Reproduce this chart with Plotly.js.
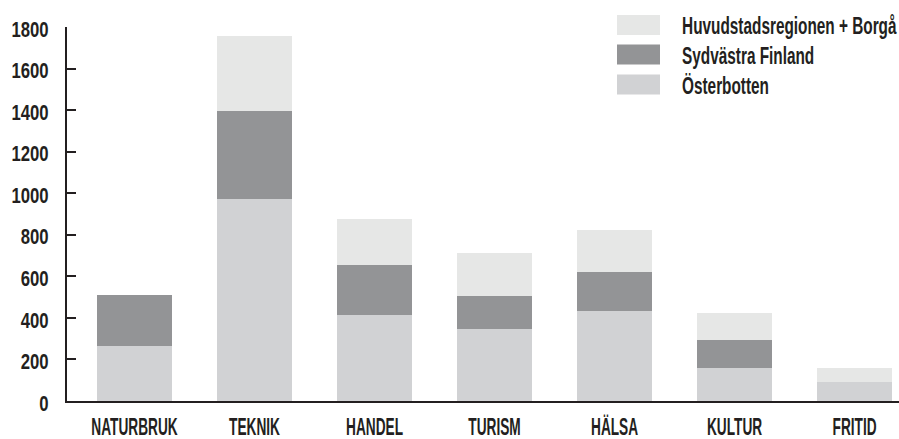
<!DOCTYPE html>
<html>
<head>
<meta charset="utf-8">
<script src="https://cdn.plot.ly/plotly-3.0.1.min.js"></script>
<style>html,body{margin:0;padding:0;background:#fff;}#chart{width:899px;height:439px;}</style>
</head>
<body>
<div id="chart"></div>
<script>
const categories = ["NATURBRUK", "TEKNIK", "HANDEL", "TURISM", "HÄLSA", "KULTUR", "FRITID"];
const seriesNames = ["Österbotten", "Sydvästra Finland", "Huvudstadsregionen + Borgå"];
const osterbotten = [263, 974, 412, 348, 433, 161, 90];
const sydvastra = [246, 420, 241, 157, 188, 131, 0];
const huvudstad = [0, 361, 223, 207, 204, 130, 67];
const yTicks = [0, 200, 400, 600, 800, 1000, 1200, 1400, 1600, 1800];
const colors = ["#d1d2d4", "#939496", "#e6e7e6"];

const FONT = "'Liberation Sans', Arial, sans-serif";
const INK = "#231f20";
const W = 899, H = 439, ML = 67, MR = 0, MT = 27, MB = 38;
const pw = W - ML - MR, ph = H - MT - MB;
const px = x => (x - ML) / pw;
const py = y => (H - MB - y) / ph;

const values = [osterbotten, sydvastra, huvudstad];
const traces = values.map((v, i) => ({
  type: "bar",
  name: seriesNames[i],
  x: categories,
  y: v,
  marker: {color: colors[i], line: {width: 0}},
  showlegend: false,
  hoverinfo: "x+y+name"
}));

// custom legend (top to bottom: Huvudstad, Sydvästra, Österbotten)
const legendOrder = [2, 1, 0];
const rowCenters = [25, 54.5, 84.5];
const shapes = [], annotations = [];
legendOrder.forEach((si, r) => {
  const c = rowCenters[r];
  shapes.push({type: "rect", xref: "paper", yref: "paper",
    x0: px(617), x1: px(660), y0: py(c + 10), y1: py(c - 10),
    fillcolor: colors[si], line: {width: 0}});
  annotations.push({xref: "paper", yref: "paper", x: px(680), y: py(c + 1),
    xanchor: "left", yanchor: "middle", showarrow: false,
    text: seriesNames[si], font: {family: FONT, size: 24, weight: "bold", color: INK}});
});

const layout = {
  width: W, height: H,
  margin: {l: ML, r: MR, t: MT, b: MB, pad: 0},
  paper_bgcolor: "#fff", plot_bgcolor: "#fff",
  barmode: "stack",
  bargap: 0.375,
  font: {family: FONT, size: 23, color: INK},
  xaxis: {
    type: "category",
    range: [-0.5625, 6.37],
    showline: true, linecolor: INK, linewidth: 2,
    ticks: "", showgrid: false, zeroline: false,
    tickangle: 0,
    ticklabelstandoff: 3,
    tickfont: {family: FONT, size: 24, weight: "bold", color: INK},
    fixedrange: true
  },
  yaxis: {
    range: [0, 1800],
    tickvals: yTicks,
    ticktext: yTicks.map(String),
    showline: true, linecolor: INK, linewidth: 2,
    ticks: "inside", ticklen: 9, tickwidth: 2, tickcolor: INK,
    ticklabelstandoff: 12,
    ticklabelshift: 2,
    showgrid: false, zeroline: false,
    tickfont: {family: FONT, size: 22, weight: "bold", color: INK},
    fixedrange: true
  },
  shapes: shapes,
  annotations: annotations,
  showlegend: false
};

// emulate a condensed typeface: scale each text horizontally about its anchor
function condense(sel, f, keepLeft) {
  document.querySelectorAll(sel).forEach(t => {
    const len = t.getComputedTextLength();
    const anchor = t.getAttribute("text-anchor") || "start";
    const x = parseFloat(t.getAttribute("x") || "0");
    let ax = x;
    if (keepLeft) ax = anchor === "middle" ? x - len / 2 : (anchor === "end" ? x - len : x);
    const tr = t.getAttribute("transform") || "";
    t.setAttribute("transform",
      (tr + " translate(" + ax.toFixed(2) + ",0) scale(" + f + ",1) translate(" + (-ax).toFixed(2) + ",0)").trim());
  });
}

Plotly.newPlot("chart", traces, layout, {displayModeBar: false}).then(() => {
  condense("#chart .ytick text", 0.76, false);
  condense("#chart .xtick text", 0.57, false);
  condense("#chart .annotation-text", 0.64, true);
});
</script>
</body>
</html>
